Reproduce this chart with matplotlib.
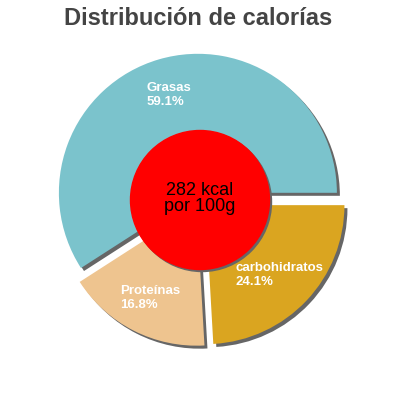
import matplotlib.pyplot as plt
from matplotlib.patches import Circle

# data
names = ["Grasas", "Proteínas", "carbohidratos"]
shares = [59.1, 16.8, 24.1]
colors = ["#7bc3cc", "#eec48f", "#daa520"]
kcal = 282

title = "Distribución de calorías"
center_text = "%d kcal\npor 100g" % kcal

fig = plt.figure(figsize=(4, 4), dpi=100)
ax = fig.add_axes([0, 0, 1, 1])

R = 139
cx, cy = 200, 200
# explode is in data units here (pixels)
explode = [7.5] * len(shares)
labels = ["%s\n%.1f%%" % (n, v) for n, v in zip(names, shares)]

# shadow
ax.pie(shares, colors=["#666666"] * 3, radius=R, center=(cx + 3, cy - 3),
       explode=explode, startangle=0, counterclock=True)
ax.add_patch(Circle((cx + 2, cy - 2), R * 0.5, color="#666666", zorder=3))

ax.pie(shares, colors=colors, radius=R, center=(cx, cy), explode=explode,
       startangle=0, counterclock=True, labels=labels, labeldistance=0.735,
       textprops=dict(ha="center", va="center", multialignment="left",
                      color="white", fontweight="bold", fontsize=9.5,
                      family="Liberation Sans", zorder=5))

ax.add_patch(Circle((cx, cy), R * 0.5, color="#ff0000", zorder=4))
ax.text(cx, cy + 1.5, center_text, ha="center", va="center", fontsize=13,
        family="Liberation Sans", linespacing=0.95, color="black", zorder=6)

ax.text(198, 375, title, ha="center", va="baseline", fontsize=17,
        fontweight="bold", family="Liberation Sans", color="#444444")

ax.set_xlim(0, 400)
ax.set_ylim(0, 400)
ax.set_aspect("equal")
ax.axis("off")

fig.savefig("out.png", dpi=100)
